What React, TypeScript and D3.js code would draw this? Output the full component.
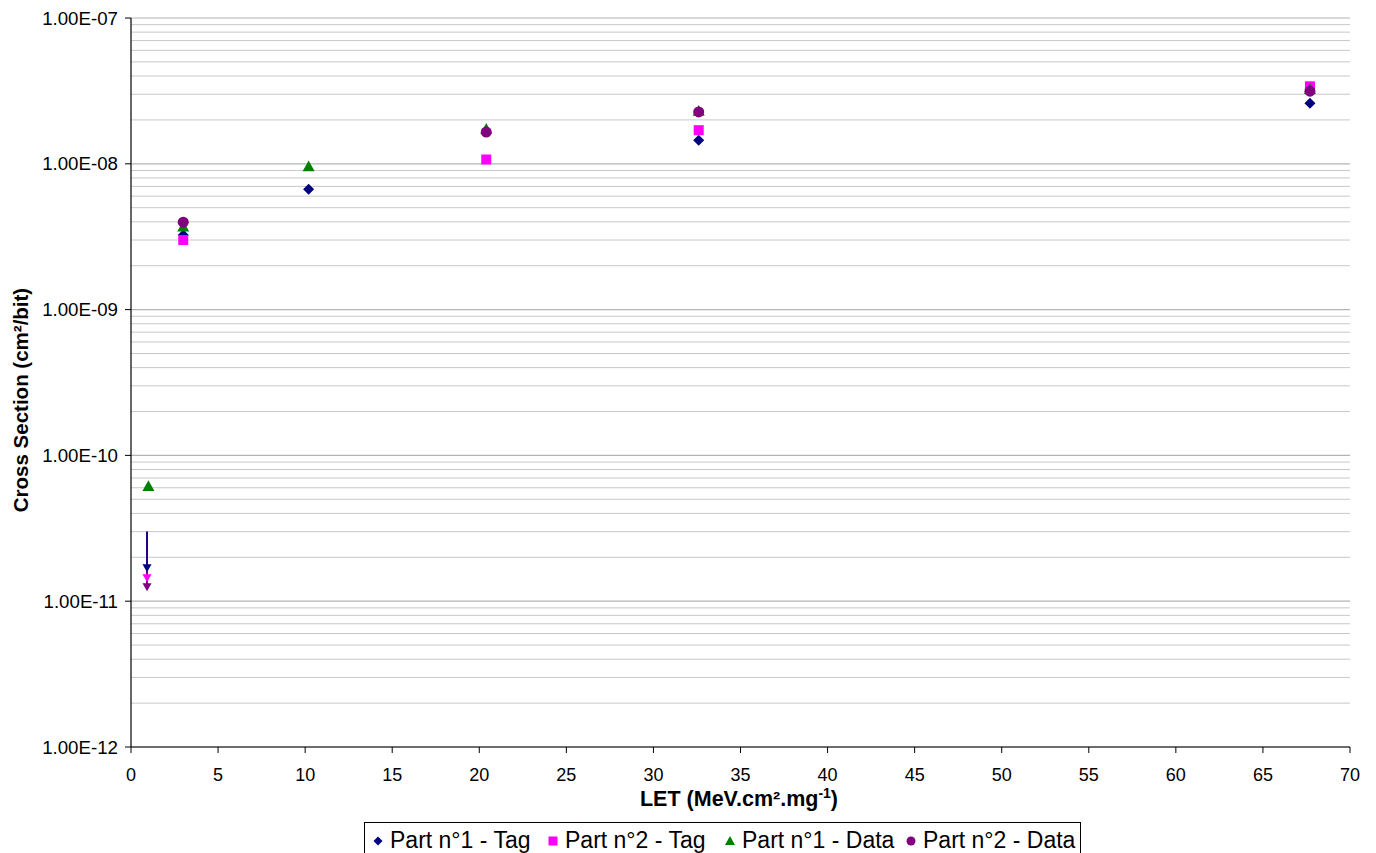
import * as d3 from "d3";
import React from "react";

const WIDTH = 1376;
const HEIGHT = 853;
const MARGIN = { left: 131, right: 26, top: 18, bottom: 106 };

// x: LET, y: cross section (cm²/bit)
const tag1X = [3.0, 10.2, 32.6, 67.7];
const tag1Y = [3.25e-9, 6.7e-9, 1.45e-8, 2.6e-8];
const tag2X = [3.0, 20.4, 32.6, 67.7];
const tag2Y = [3.0e-9, 1.07e-8, 1.7e-8, 3.4e-8];
const data1X = [1.0, 3.0, 10.2, 20.4, 32.6, 67.7];
const data1Y = [6.15e-11, 3.7e-9, 9.6e-9, 1.73e-8, 2.3e-8, 3.25e-8];
const data2X = [3.0, 20.4, 32.6, 67.7];
const data2Y = [3.98e-9, 1.65e-8, 2.27e-8, 3.15e-8];

// upper limits (no event) at low LET, drawn as arrows
const limitX = 0.92;
const limitTop = 3.0e-11;
const limitTag1 = 1.58e-11;
const limitTag2 = 1.35e-11;
const limitData2 = 1.17e-11;

const xTicks = [0, 5, 10, 15, 20, 25, 30, 35, 40, 45, 50, 55, 60, 65, 70];
const yTicks = [1e-12, 1e-11, 1e-10, 1e-9, 1e-8, 1e-7];
const yTickLabels = ["1.00E-12", "1.00E-11", "1.00E-10", "1.00E-09", "1.00E-08", "1.00E-07"];

const legendNames = ["Part n°1 - Tag", "Part n°2 - Tag", "Part n°1 - Data", "Part n°2 - Data"];
const NAVY = "#000080";
const MAGENTA = "#ff00ff";
const GREEN = "#008000";
const PURPLE = "#800080";

const FONT = "'Liberation Sans', Arial, sans-serif";

const diamond = (x: number, y: number, r = 5.5) =>
  `M${x},${y - r}L${x + r},${y}L${x},${y + r}L${x - r},${y}Z`;
const triangle = (x: number, y: number, r = 6) =>
  `M${x},${y - r}L${x + r},${y + r * 0.8}L${x - r},${y + r * 0.8}Z`;
const downTri = (x: number, y: number) => `M${x - 4.5},${y - 8}L${x + 4.5},${y - 8}L${x},${y}Z`;

export default function App() {
  const bw = WIDTH - MARGIN.left - MARGIN.right;
  const bh = HEIGHT - MARGIN.top - MARGIN.bottom;
  const x = d3.scaleLinear().domain([0, 70]).range([MARGIN.left, MARGIN.left + bw]);
  const y = d3.scaleLog().domain([1e-12, 1e-7]).range([MARGIN.top + bh, MARGIN.top]);

  const minor: number[] = [];
  for (let e = -12; e < -7; e++) {
    for (let m = 2; m <= 9; m++) minor.push(m * Math.pow(10, e));
  }

  const legendX = [378, 553, 730, 911];

  return (
    <div style={{ position: "fixed", left: 0, top: 0 }}>
      <svg width={WIDTH} height={HEIGHT} style={{ display: "block", background: "#fff" }}>
        {/* grid */}
        {minor.map((v, i) => (
          <line key={"m" + i} x1={x(0)} x2={x(70)} y1={y(v)} y2={y(v)} stroke="#c8c8c8" strokeWidth={1} />
        ))}
        {yTicks.map((v, i) => (
          <line key={"g" + i} x1={x(0)} x2={x(70)} y1={y(v)} y2={y(v)} stroke="#b4b4b4" strokeWidth={1.2} />
        ))}

        {/* axes */}
        <line x1={x(0)} x2={x(0)} y1={y(1e-7)} y2={y(1e-12)} stroke="#000" strokeWidth={1.2} />
        <line x1={x(0)} x2={x(70)} y1={y(1e-12)} y2={y(1e-12)} stroke="#000" strokeWidth={1.2} />
        {yTicks.map((v, i) => (
          <g key={"yt" + i}>
            <line x1={x(0) - 6} x2={x(0)} y1={y(v)} y2={y(v)} stroke="#000" />
            <text x={x(0) - 13} y={y(v)} dy="0.35em" textAnchor="end" fontFamily={FONT} fontSize={18.7}>
              {yTickLabels[i]}
            </text>
          </g>
        ))}
        {xTicks.map((v) => (
          <g key={"xt" + v}>
            <line x1={x(v)} x2={x(v)} y1={y(1e-12)} y2={y(1e-12) + 6} stroke="#000" />
            <text x={x(v)} y={781} textAnchor="middle" fontFamily={FONT} fontSize={18}>
              {v}
            </text>
          </g>
        ))}

        {/* axis titles */}
        <text
          transform={`translate(28,400) rotate(-90)`}
          textAnchor="middle"
          fontFamily={FONT}
          fontSize={20.5}
          fontWeight="bold"
        >
          Cross Section (cm²/bit)
        </text>
        <text x={739} y={806} textAnchor="middle" fontFamily={FONT} fontSize={21.5} fontWeight="bold">
          LET (MeV.cm².mg
          <tspan dy={-8} fontSize={14}>-1</tspan>
          <tspan dy={8}>)</tspan>
        </text>

        {/* upper-limit arrows */}
        <line x1={x(limitX)} x2={x(limitX)} y1={y(limitTop)} y2={y(limitData2) - 4} stroke={PURPLE} strokeWidth={2} />
        <line x1={x(limitX)} x2={x(limitX)} y1={y(limitTop)} y2={y(limitTag1) - 4} stroke={NAVY} strokeWidth={2} opacity={0.7} />
        <path d={downTri(x(limitX), y(limitData2))} fill={PURPLE} />
        <path d={downTri(x(limitX), y(limitTag2))} fill={MAGENTA} />
        <path d={downTri(x(limitX), y(limitTag1))} fill={NAVY} />

        {/* series */}
        {tag1X.map((v, i) => (
          <path key={"a" + i} d={diamond(x(v), y(tag1Y[i]))} fill={NAVY} />
        ))}
        {tag2X.map((v, i) => (
          <rect key={"b" + i} x={x(v) - 5} y={y(tag2Y[i]) - 5} width={10} height={10} fill={MAGENTA} />
        ))}
        {data1X.map((v, i) => (
          <path key={"c" + i} d={triangle(x(v), y(data1Y[i]))} fill={GREEN} />
        ))}
        {data2X.map((v, i) => (
          <circle key={"d" + i} cx={x(v)} cy={y(data2Y[i])} r={5.5} fill={PURPLE} />
        ))}

        {/* legend */}
        <rect x={364.5} y={822.5} width={716} height={34} fill="#fff" stroke="#000" strokeWidth={1} />
        <path d={diamond(legendX[0], 841, 4.5)} fill={NAVY} />
        <rect x={legendX[1] - 4.5} y={836.5} width={9} height={9} fill={MAGENTA} />
        <path d={triangle(legendX[2], 841, 5)} fill={GREEN} />
        <circle cx={legendX[3]} cy={841} r={4.5} fill={PURPLE} />
        {legendNames.map((n, i) => (
          <text key={n} x={legendX[i] + 12} y={848} fontFamily={FONT} fontSize={23}>
            {n}
          </text>
        ))}
      </svg>
    </div>
  );
}
